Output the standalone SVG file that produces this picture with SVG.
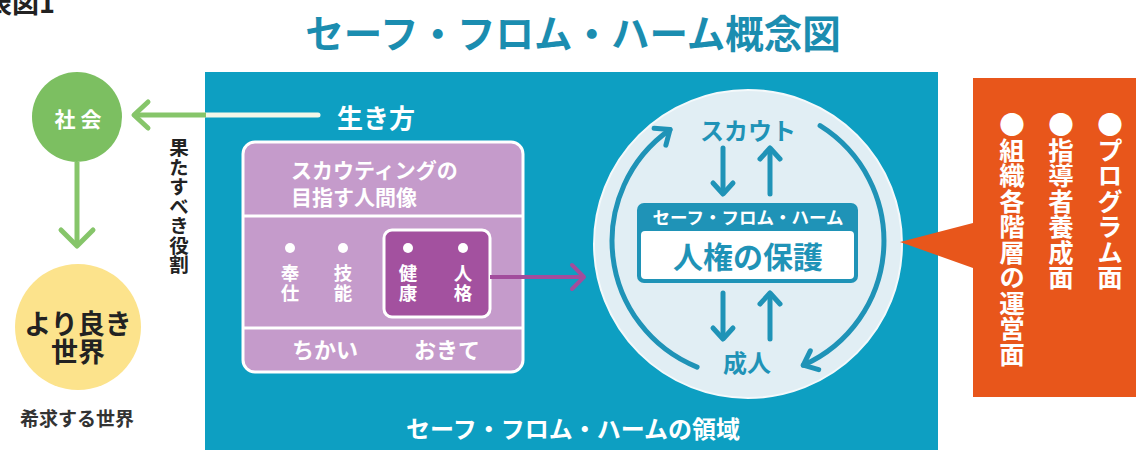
<svg xmlns="http://www.w3.org/2000/svg" width="1136" height="450" viewBox="0 0 1136 450">
<style>
text{font-family:"Noto Sans CJK JP","Noto Sans",sans-serif;font-weight:700}
.w{fill:#ffffff}
.t{fill:#1f93b7}
.ln{fill:none;stroke-linecap:round;stroke-linejoin:round}
.teal{stroke:#1f93b7;stroke-width:5}
.vert{writing-mode:vertical-rl}
</style>
<rect width="1136" height="450" fill="#ffffff"/>
<text x="-15" y="13" font-size="27" fill="#222">表図1</text>
<text x="573" y="48" font-size="38.5" text-anchor="middle" fill="#1b8db0">セーフ・フロム・ハーム概念図</text>

<g id="domain">
<rect x="205" y="72" width="733" height="390" fill="#0d9fc2"/>
<text x="573" y="438" font-size="24" text-anchor="middle" class="w">セーフ・フロム・ハームの領域</text>
</g>

<g id="society">
<circle cx="77" cy="117" r="45" fill="#7cbf61"/>
<text x="78" y="127" font-size="21" text-anchor="middle" class="w">社 会</text>
</g>

<g id="better-world">
<circle cx="78" cy="327" r="63" fill="#fce38c"/>
<text x="78" y="334" font-size="27" text-anchor="middle" fill="#222">より良き</text>
<text x="78" y="362" font-size="27" text-anchor="middle" fill="#222">世界</text>
<text x="77" y="426" font-size="19" text-anchor="middle" fill="#333">希求する世界</text>
</g>

<g id="role-label">
<text x="179" y="138" font-size="19.5" class="vert" fill="#222">果たすべき役割</text>
</g>

<g id="ikikata">
<text x="337" y="128" font-size="26" class="w">生き方</text>
</g>

<g id="ideal-person">
<rect x="243" y="142" width="280" height="230" rx="12" fill="#c59bcb" stroke="#ffffff" stroke-width="3"/>
<line x1="243" y1="216" x2="523" y2="216" stroke="#ffffff" stroke-width="3"/>
<line x1="243" y1="328" x2="523" y2="328" stroke="#ffffff" stroke-width="3"/>
<text x="291" y="178" font-size="21" class="w">スカウティングの</text>
<text x="291" y="205" font-size="21" class="w">目指す人間像</text>
<rect x="384" y="230" width="106" height="87" rx="8" fill="#a3519f" stroke="#ffffff" stroke-width="3"/>
<g class="w" font-size="18.5" text-anchor="middle">
<circle cx="290" cy="248" r="5" fill="#fff"/>
<circle cx="343" cy="248" r="5" fill="#fff"/>
<circle cx="408" cy="248" r="5" fill="#fff"/>
<circle cx="463" cy="248" r="5" fill="#fff"/>
<text x="290" y="280">奉</text><text x="290" y="300">仕</text>
<text x="343" y="280">技</text><text x="343" y="300">能</text>
<text x="408" y="280">健</text><text x="408" y="300">康</text>
<text x="463" y="280">人</text><text x="463" y="300">格</text>
</g>
<text x="325" y="358" font-size="22" text-anchor="middle" class="w">ちかい</text>
<text x="447" y="358" font-size="22" text-anchor="middle" class="w">おきて</text>
</g>

<g id="protection-circle">
<circle cx="748" cy="244" r="154" fill="#e1eef4" stroke="#f4f9fb" stroke-width="2"/>
<text x="748" y="140" font-size="24" text-anchor="middle" class="t">スカウト</text>
<text x="747" y="372" font-size="24" text-anchor="middle" class="t">成人</text>
<rect x="637" y="203" width="221" height="80" rx="7" fill="#1f93b7"/>
<rect x="641" y="231" width="213" height="48" rx="4" fill="#ffffff"/>
<text x="748" y="224" font-size="17.5" text-anchor="middle" class="w">セーフ・フロム・ハーム</text>
<text x="748" y="268" font-size="30" text-anchor="middle" class="t">人権の保護</text>
</g>

<g id="aspects">
<path d="M973 78 H1136 V397 H973 V268 L900 242 L973 223 Z" fill="#e8561b"/>
<text x="1110" y="112" font-size="25.5" class="vert w">●プログラム面</text>
<text x="1061" y="112" font-size="25.5" class="vert w">●指導者養成面</text>
<text x="1012" y="112" font-size="25.5" class="vert w">●組織各階層の運営面</text>
</g>

<g id="connectors">
<line x1="206" y1="115" x2="318" y2="115" stroke="#f4f7e8" stroke-width="5" stroke-linecap="round"/>
<line x1="136" y1="115" x2="206" y2="115" stroke="#86c56a" stroke-width="5"/>
<polyline points="148,102 134,115 148,128" class="ln" stroke="#86c56a" stroke-width="5"/>
<line x1="77" y1="162" x2="77" y2="244" stroke="#86c56a" stroke-width="5"/>
<polyline points="61,230 77,246 93,230" class="ln" stroke="#86c56a" stroke-width="5"/>
<line x1="490" y1="277" x2="582" y2="277" stroke="#a24d9c" stroke-width="4"/>
<polyline points="572,265 584,277 572,289" class="ln" stroke="#a24d9c" stroke-width="4"/>
<path d="M697.1 367.1 A136 136 0 0 1 670 129.6" class="ln teal"/>
<polyline points="654.1,128.2 670,129.6 665.9,145.1" class="ln teal"/>
<path d="M820.1 125.7 A136 136 0 0 1 803.3 365.2" class="ln teal"/>
<polyline points="818.7,369.6 803.3,365.2 810.3,350.8" class="ln teal"/>
<line x1="723" y1="148" x2="723" y2="192" class="ln teal"/>
<polyline points="713,183 723,194 733,183" class="ln teal"/>
<line x1="770" y1="194" x2="770" y2="150" class="ln teal"/>
<polyline points="760,159 770,148 780,159" class="ln teal"/>
<line x1="723" y1="293" x2="723" y2="337" class="ln teal"/>
<polyline points="713,328 723,339 733,328" class="ln teal"/>
<line x1="770" y1="339" x2="770" y2="295" class="ln teal"/>
<polyline points="760,304 770,293 780,304" class="ln teal"/>
</g>
</svg>
